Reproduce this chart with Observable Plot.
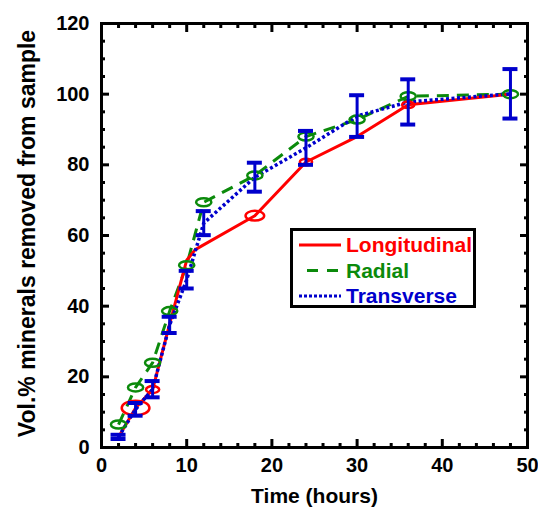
<!DOCTYPE html>
<html><head><meta charset="utf-8">
<script src="https://cdn.jsdelivr.net/npm/d3@7"></script>
<script src="https://cdn.jsdelivr.net/npm/@observablehq/plot@0.6"></script>
<style>
body{margin:0;background:#fff;}
#wrap{position:relative;width:538px;height:515px;font-family:"Liberation Sans",Arial,Helvetica,sans-serif;}
#legend{position:absolute;left:290px;top:228px;}
</style></head><body><div id="wrap"></div><script>
// ---- data ----
const hours = [2, 4, 6, 8, 10, 12, 18, 24, 30, 36, 48];
const longHours = [2, 4, 6, 8, 10, 11, 18, 24, 30, 36, 48];
const longitudinal = [3, 11.2, 16.4, 35, 53, 56, 65.6, 80.8, 88, 97, 100];
const longSpread = [0, 2, 0.4, 0, 0, 0, 1, 0.3, 0, 0.3, 0];
const radial = [6.5, 17, 24, 38.6, 51.6, 69.4, 77, 88, 92.8, 99.4, 100];
const transverse = [3, 10.8, 16.5, 34.7, 47.5, 63.5, 76.5, 84.8, 93.8, 97.8, 100.1];
const transErr = [0.6, 1.8, 2.3, 2.3, 2.5, 3.4, 4.1, 4.8, 5.9, 6.4, 7.0];
const seriesNames = ["Longitudinal", "Radial", "Transverse"];
const seriesColors = ["#ff0000", "#0b8a0b", "#0000cc"];
const xMajor = [0, 10, 20, 30, 40, 50];
const xMinor = d3.range(0, 51, 2).filter(v => v % 10 !== 0);
const yMajor = [0, 20, 40, 60, 80, 100, 120];
const yMinor = d3.range(0, 121, 5).filter(v => v % 20 !== 0);
const xTitle = "Time (hours)";
const yTitle = "Vol.% minerals removed from sample";

const longData = longHours.map((x, i) => ({x, y: longitudinal[i], s: longSpread[i]}));
const radData = hours.map((x, i) => ({x, y: radial[i]}));
const transData = hours.map((x, i) => ({x, y: transverse[i], e: transErr[i]}));

const ellipse = {
  draw(ctx, size) {
    const ry = Math.sqrt(size / Math.PI), rx = ry * 1.9, k = 0.5523;
    ctx.moveTo(rx, 0);
    ctx.bezierCurveTo(rx, k * ry, k * rx, ry, 0, ry);
    ctx.bezierCurveTo(-k * rx, ry, -rx, k * ry, -rx, 0);
    ctx.bezierCurveTo(-rx, -k * ry, -k * rx, -ry, 0, -ry);
    ctx.bezierCurveTo(k * rx, -ry, rx, -k * ry, rx, 0);
    ctx.closePath();
  }
};

const tickStyle = {strokeWidth: 3, tickFormat: () => "", label: null};
const textStyle = {tickSize: 0, fontSize: 20, fontWeight: "bold", label: null};

const chart = Plot.plot({
  width: 538, height: 515,
  marginLeft: 101, marginRight: 11, marginTop: 23, marginBottom: 68,
  style: {fontFamily: "'Liberation Sans', Arial, Helvetica, sans-serif", color: "black", background: "white"},
  x: {domain: [0, 50]},
  y: {domain: [0, 120]},
  r: {type: "identity"},
  marks: [
    Plot.line(radData, {x: "x", y: "y", stroke: seriesColors[1], strokeWidth: 3, strokeDasharray: "12 8", strokeLinecap: "butt"}),
    Plot.line(longData, {x: "x", y: "y", stroke: seriesColors[0], strokeWidth: 3}),
    Plot.line(transData, {x: "x", y: "y", stroke: seriesColors[2], strokeWidth: 3.5, strokeDasharray: "3 2.5", strokeLinecap: "butt"}),
    Plot.dot(radData, {x: "x", y: "y", r: 4, symbol: ellipse, stroke: seriesColors[1], strokeWidth: 2.5, fill: "none"}),
    Plot.dot(longData.filter(d => d.s > 0), {x: "x", y: "y", r: d => 2.5 + d.s * 2.4, symbol: ellipse, stroke: seriesColors[0], strokeWidth: 2.5, fill: "none"}),
    Plot.ruleX(transData, {x: "x", y1: d => d.y - d.e, y2: d => d.y + d.e, stroke: seriesColors[2], strokeWidth: 3}),
    Plot.ruleY(transData, {y: d => d.y - d.e, x1: d => d.x - 0.88, x2: d => d.x + 0.88, stroke: seriesColors[2], strokeWidth: 4}),
    Plot.ruleY(transData, {y: d => d.y + d.e, x1: d => d.x - 0.88, x2: d => d.x + 0.88, stroke: seriesColors[2], strokeWidth: 4}),
    Plot.frame({stroke: "black", strokeWidth: 3}),
    Plot.axisX(xMajor, {anchor: "bottom", tickSize: -8, ...tickStyle}),
    Plot.axisX(xMinor, {anchor: "bottom", tickSize: -4, ...tickStyle}),
    Plot.axisX(xMajor, {anchor: "top", tickSize: -8, ...tickStyle}),
    Plot.axisX(xMinor, {anchor: "top", tickSize: -4, ...tickStyle}),
    Plot.axisY(yMajor, {anchor: "left", tickSize: -8, ...tickStyle}),
    Plot.axisY(yMinor, {anchor: "left", tickSize: -4, ...tickStyle}),
    Plot.axisY(yMajor, {anchor: "right", tickSize: -8, ...tickStyle}),
    Plot.axisY(yMinor, {anchor: "right", tickSize: -4, ...tickStyle}),
    Plot.axisX(xMajor, {anchor: "bottom", tickPadding: 10, ...textStyle}),
    Plot.axisY(yMajor, {anchor: "left", tickPadding: 12, ...textStyle}),
    Plot.text([xTitle], {frameAnchor: "bottom", dy: 55, fontSize: 21, fontWeight: "bold", textAnchor: "middle"}),
    Plot.text([yTitle], {frameAnchor: "left", dx: -74, dy: -2, rotate: -90, fontSize: 23, fontWeight: "bold", textAnchor: "middle"})
  ]
});
const wrap = document.getElementById("wrap");
wrap.appendChild(chart);

// legend
const ns = "http://www.w3.org/2000/svg";
const leg = document.createElementNS(ns, "svg");
leg.setAttribute("id", "legend");
leg.setAttribute("width", 186); leg.setAttribute("height", 80);
const dashes = [null, "11 9", "3 2"];
const lineX = [[9, 51], [17, 48], [9, 51]];
let html = `<rect x="1.5" y="1.5" width="183" height="77" fill="white" stroke="black" stroke-width="3"/>`;
seriesNames.forEach((name, i) => {
  const cy = 17 + i * 25.5;
  html += `<line x1="${lineX[i][0]}" x2="${lineX[i][1]}" y1="${cy}" y2="${cy}" stroke="${seriesColors[i]}" stroke-width="3" ${dashes[i] ? `stroke-dasharray="${dashes[i]}"` : ""}/>`;
  html += `<text x="56" y="${cy + 7}" fill="${seriesColors[i]}" font-size="21" font-weight="bold" font-family="'Liberation Sans', Arial, sans-serif">${name}</text>`;
});
leg.innerHTML = html;
wrap.appendChild(leg);
</script></body></html>
